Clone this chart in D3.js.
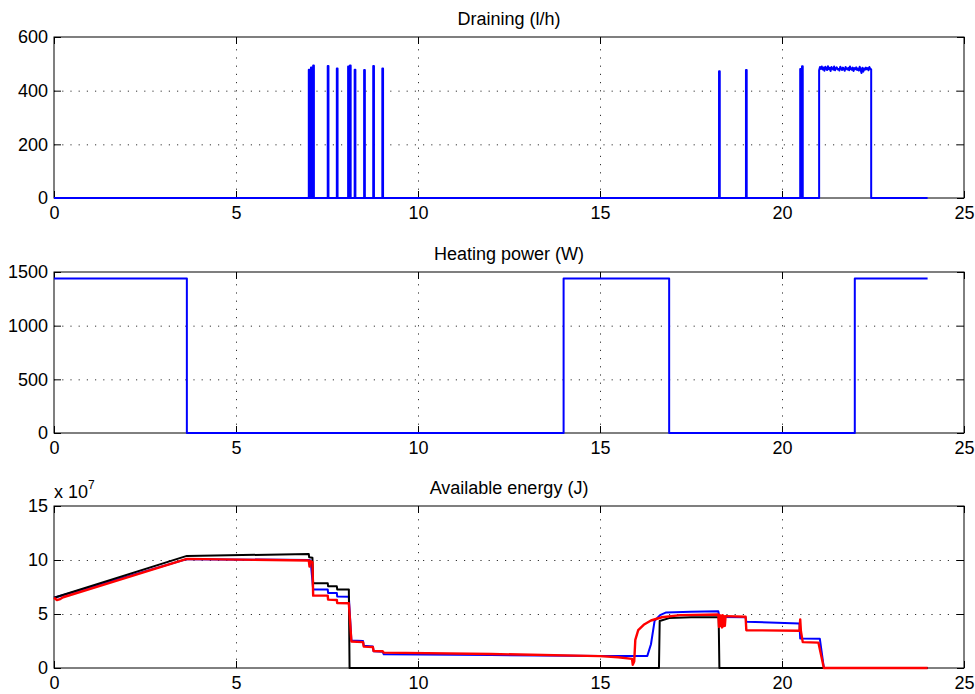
<!DOCTYPE html>
<html>
<head>
<meta charset="utf-8">
<script src="https://cdn.jsdelivr.net/npm/d3@7"></script>
<style>
  body { margin: 0; background: #fff; }
  svg { display: block; font-family: "Liberation Sans", Arial, Helvetica, sans-serif; }
</style>
</head>
<body>
<svg id="chart" width="975" height="694"></svg>
<script>
// ---- data (hours on x) ----
const xTicks = [0, 5, 10, 15, 20, 25];

// draining (l/h): short pulses in the morning and evening, then a long draw
const drainPulseStart = [7.00, 7.06, 7.12, 7.52, 7.77, 8.08, 8.13, 8.26, 8.52, 8.77, 9.02, 18.27, 19.01, 20.50, 20.55];
const drainPulseEnd   = [7.02, 7.08, 7.14, 7.54, 7.79, 8.10, 8.15, 8.28, 8.54, 8.79, 9.04, 18.29, 19.03, 20.52, 20.57];
const drainPulsePeak  = [478, 486, 494, 492, 483, 490, 494, 478, 477, 492, 483, 472, 477, 481, 491];
const drainBlockStart = 21.02;
const drainBlockEnd = 22.45;
const drainBlockValues = [476, 488, 481, 490, 479, 486, 474, 489, 483, 477, 491, 480, 485, 473, 488, 482, 478, 490, 476, 484,
                          487, 479, 481, 475, 489, 483, 477, 486, 480, 474, 488, 482, 479, 485, 476, 490, 481, 478, 486, 473,
                          484, 480, 487, 477, 482, 475, 489, 479, 466, 485, 471, 483, 478, 486, 480, 484, 476, 488, 481, 479];
const drainEnd = 24;
const drainTicks = [0, 200, 400, 600];

// heating power (W), step series
const heatTimes  = [0, 3.65, 3.65, 14.0, 14.0, 16.9, 16.9, 22.0, 22.0, 24.0];
const heatValues = [1440, 1440, 0, 0, 1440, 1440, 0, 0, 1440, 1440];
const heatTicks = [0, 500, 1000, 1500];

// available energy (x 10^7 J)
const energyTicks = [0, 5, 10, 15];
const blackTimes  = [0, 3.65, 7.0, 7.01, 7.1, 7.12, 7.52, 7.53, 7.77, 7.78, 8.1, 8.12, 16.62, 16.64, 16.9, 17.5, 18.26, 18.28, 24];
const blackValues = [6.5, 10.38, 10.55, 10.25, 10.2, 7.85, 7.85, 7.57, 7.57, 7.28, 7.28, 0, 0, 4.35, 4.62, 4.7, 4.7, 0, 0];
const blueTimes  = [0, 3.65, 7.0, 7.05, 7.12, 7.52, 7.53, 7.77, 7.78, 8.1, 8.17, 8.49, 8.51, 8.76, 8.78, 9.03, 9.06, 12, 15,
                    16.3, 16.4, 16.5, 16.65, 16.82, 17.5, 18.25, 18.28, 19.0, 19.02, 20.48, 20.5, 21.04, 21.15, 24];
const blueValues = [6.5, 10.08, 10.0, 9.95, 7.28, 7.28, 6.95, 6.95, 6.63, 6.6, 2.55, 2.5, 2.05, 2.0, 1.55, 1.5, 1.27, 1.2, 1.12,
                    1.12, 2.2, 4.37, 4.9, 5.15, 5.2, 5.25, 4.72, 4.7, 4.28, 4.12, 2.73, 2.7, 0, 0];
const redTimes  = [0, 0.08, 0.15, 0.25, 3.65, 7.0, 7.02, 7.04, 7.1, 7.12, 7.52, 7.53, 7.77, 7.78, 8.1, 8.17, 8.49, 8.51, 8.76, 8.78,
                   9.03, 9.06, 12, 15, 15.5, 15.88, 15.9, 15.94, 15.97, 16.05, 16.2, 16.4, 16.7, 17.2, 18.25,
                   18.27, 18.29, 18.31, 18.33, 18.35, 18.37, 18.39, 18.41, 18.43, 18.45, 19.0, 19.02, 20.48, 20.5, 20.52,
                   20.57, 21.0, 21.15, 24];
const redValues = [6.5, 6.3, 6.35, 6.55, 10.1, 9.95, 9.4, 9.9, 9.8, 6.7, 6.7, 6.33, 6.3, 6.02, 6.0, 2.45, 2.4, 1.98, 1.95, 1.58,
                   1.55, 1.42, 1.3, 1.1, 1.0, 0.85, 0.3, 0.6, 2.6, 3.5, 4.0, 4.4, 4.7, 4.9, 4.95,
                   3.8, 4.9, 3.9, 4.85, 3.75, 4.9, 3.85, 4.8, 3.9, 4.8, 4.75, 3.5, 3.45, 4.5, 3.4,
                   2.4, 2.35, 0, 0];

// ---- layout ----
const svg = d3.select("#chart");
const x = d3.scaleLinear().domain([0, 25]).range([54, 964]);
const FS = 18;

const panels = [
    {top: 37,  bottom: 198, max: 600,  ticks: drainTicks,  title: "Draining (l/h)"},
    {top: 272, bottom: 433, max: 1500, ticks: heatTicks,   title: "Heating power (W)"},
    {top: 506, bottom: 668, max: 15,   ticks: energyTicks, title: "Available energy (J)"},
];

function drawPanel(p) {
    let y = d3.scaleLinear().domain([0, p.max]).range([p.bottom, p.top]);
    let g = svg.append("g");
    let h = p.bottom - p.top;
    let w = x.range()[1] - x.range()[0];

    // dotted grid
    g.append("g")
        .attr("transform", `translate(0,${p.bottom})`)
        .call(d3.axisBottom(x).tickValues(xTicks.slice(1, -1)).tickSize(-h).tickFormat(""))
        .call(a => a.select(".domain").remove())
        .call(a => a.selectAll(".tick line").attr("stroke", "#333").attr("stroke-dasharray", "1.2,7"));
    g.append("g")
        .attr("transform", `translate(${x.range()[0]},0)`)
        .call(d3.axisLeft(y).tickValues(p.ticks.slice(1, -1)).tickSize(-w).tickFormat(""))
        .call(a => a.select(".domain").remove())
        .call(a => a.selectAll(".tick line").attr("stroke", "#333").attr("stroke-dasharray", "1.2,7"));

    // box
    g.append("rect")
        .attr("x", x.range()[0]).attr("y", p.top)
        .attr("width", w).attr("height", h)
        .attr("fill", "none").attr("stroke", "#000");

    // axes with inward ticks
    g.append("g")
        .attr("transform", `translate(0,${p.bottom})`)
        .call(d3.axisBottom(x).tickValues(xTicks).tickSize(-7).tickPadding(8))
        .call(a => a.select(".domain").remove())
        .call(a => a.selectAll("text").attr("font-size", FS).attr("font-family", null).attr("fill", "#000"));
    g.append("g")
        .attr("transform", `translate(0,${p.top})`)
        .call(d3.axisTop(x).tickValues(xTicks).tickSize(-7).tickFormat(""))
        .call(a => a.select(".domain").remove());
    g.append("g")
        .attr("transform", `translate(${x.range()[0]},0)`)
        .call(d3.axisLeft(y).tickValues(p.ticks).tickSize(-7).tickPadding(6).tickFormat(d3.format("d")))
        .call(a => a.select(".domain").remove())
        .call(a => a.selectAll("text").attr("font-size", FS).attr("font-family", null).attr("fill", "#000"));
    g.append("g")
        .attr("transform", `translate(${x.range()[1]},0)`)
        .call(d3.axisRight(y).tickValues(p.ticks).tickSize(-7).tickFormat(""))
        .call(a => a.select(".domain").remove());

    // title
    svg.append("text")
        .attr("x", (x.range()[0] + x.range()[1]) / 2)
        .attr("y", p.top - 12)
        .attr("text-anchor", "middle")
        .attr("font-size", FS)
        .text(p.title);

    return y;
}

function drawLine(y, times, values, color, width) {
    let pts = times.map((t, i) => [t, values[i]]);
    svg.append("path")
        .datum(pts)
        .attr("fill", "none")
        .attr("stroke", color)
        .attr("stroke-width", width)
        .attr("stroke-linejoin", "round")
        .attr("d", d3.line().x(d => x(d[0])).y(d => y(d[1])));
}

// panel 1: draining
let y1 = drawPanel(panels[0]);
let drainTimes = [0], drainValues = [0];
drainPulseStart.forEach((s, i) => {
    drainTimes.push(s, s, drainPulseEnd[i], drainPulseEnd[i]);
    drainValues.push(0, drainPulsePeak[i], drainPulsePeak[i], 0);
});
let step = (drainBlockEnd - drainBlockStart) / (drainBlockValues.length - 1);
drainTimes.push(drainBlockStart);
drainValues.push(0);
drainBlockValues.forEach((v, i) => {
    drainTimes.push(drainBlockStart + i * step);
    drainValues.push(v);
});
drainTimes.push(drainBlockEnd, drainEnd);
drainValues.push(0, 0);
drawLine(y1, drainTimes, drainValues, "#0000ff", 2);

// panel 2: heating
let y2 = drawPanel(panels[1]);
drawLine(y2, heatTimes, heatValues, "#0000ff", 2);

// panel 3: energy
let y3 = drawPanel(panels[2]);
drawLine(y3, blueTimes, blueValues, "#0000ff", 2);
drawLine(y3, blackTimes, blackValues, "#000000", 2);
drawLine(y3, redTimes, redValues, "#ff0000", 2.4);

// exponent label
let expLabel = svg.append("text")
    .attr("x", 54)
    .attr("y", 498)
    .attr("font-size", FS);
expLabel.append("tspan").text("x 10");
expLabel.append("tspan").attr("dy", -9).attr("font-size", 12).text("7");
</script>
</body>
</html>
